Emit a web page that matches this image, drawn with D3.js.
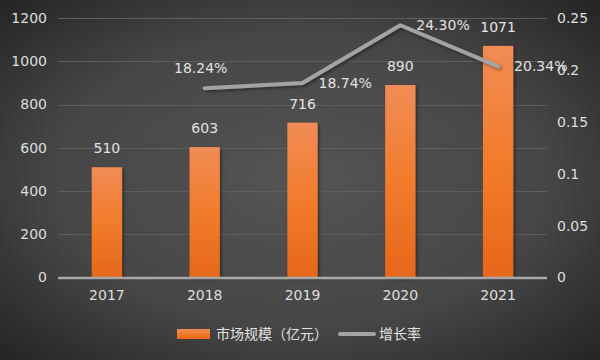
<!DOCTYPE html>
<html>
<head>
<meta charset="utf-8">
<script src="https://cdn.jsdelivr.net/npm/d3@7"></script>
<style>
html,body{margin:0;padding:0;background:#222;}
svg{display:block;}
text{font-family:"DejaVu Sans","Noto Sans CJK SC",sans-serif;}
</style>
</head>
<body>
<svg id="chart" width="600" height="360"></svg>
<script>
// ---- data ----
const categories = ["2017", "2018", "2019", "2020", "2021"];
const marketSize = [510, 603, 716, 890, 1071];
const growthRate = [null, 0.1824, 0.1874, 0.2430, 0.2034];
const growthLabels = ["", "18.24%", "18.74%", "24.30%", "20.34%"];
const leftTicks = [0, 200, 400, 600, 800, 1000, 1200];
const rightTicks = [0, 0.05, 0.1, 0.15, 0.2, 0.25];
const rightTickLabels = ["0", "0.05", "0.1", "0.15", "0.2", "0.25"];
const seriesNames = ["市场规模（亿元）", "增长率"];
const growthLabelPlacement = [null, "above", "right", "right", "right"];

// ---- layout ----
const W = 600, H = 360;
const margin = {left: 58, right: 53, top: 18, bottom: 83};
const svg = d3.select("#chart");
const defs = svg.append("defs");

const bg = defs.append("radialGradient").attr("id", "bg")
  .attr("cx", "50%").attr("cy", "50%").attr("r", "75%");
bg.append("stop").attr("offset", "0%").attr("stop-color", "#545454");
bg.append("stop").attr("offset", "55%").attr("stop-color", "#464646");
bg.append("stop").attr("offset", "100%").attr("stop-color", "#1f1f1f");
svg.append("rect").attr("width", W).attr("height", H).attr("fill", "url(#bg)");

const barGrad = defs.append("linearGradient").attr("id", "barGrad")
  .attr("x1", 0).attr("y1", 0).attr("x2", 0).attr("y2", 1);
barGrad.append("stop").attr("offset", "0%").attr("stop-color", "#f08c55");
barGrad.append("stop").attr("offset", "50%").attr("stop-color", "#f27c2c");
barGrad.append("stop").attr("offset", "100%").attr("stop-color", "#e6671a");

const shadow = defs.append("filter").attr("id", "shadow")
  .attr("x", "-20%").attr("y", "-20%").attr("width", "140%").attr("height", "140%");
shadow.append("feDropShadow").attr("dx", 1.5).attr("dy", 1.5).attr("stdDeviation", 1.5)
  .attr("flood-color", "#000").attr("flood-opacity", 0.45);

const x = d3.scaleBand().domain(categories)
  .range([margin.left, W - margin.right]).paddingInner(0.69).paddingOuter(0.345);
const yL = d3.scaleLinear().domain([0, 1200]).range([277.5, margin.top]);
const yR = d3.scaleLinear().domain([0, 0.25]).range([277.5, margin.top]);

// gridlines
svg.append("g").selectAll("line").data(leftTicks.slice(1)).join("line")
  .attr("x1", margin.left).attr("x2", W - margin.right)
  .attr("y1", d => Math.round(yL(d)) + 0.5).attr("y2", d => Math.round(yL(d)) + 0.5)
  .attr("stroke", "#5e5e5e").attr("stroke-width", 1);

// left axis labels
const axisL = d3.axisLeft(yL).tickValues(leftTicks).tickSize(0).tickPadding(11)
  .tickFormat(d3.format("d"));
const gL = svg.append("g").attr("transform", `translate(${margin.left},0)`).call(axisL);
gL.select(".domain").remove();
gL.selectAll("text").attr("fill", "#dedede").attr("font-size", 14)
  .attr("font-family", "DejaVu Sans, sans-serif");

// right axis labels
const axisR = d3.axisRight(yR).tickValues(rightTicks).tickSize(0).tickPadding(10)
  .tickFormat((d, i) => rightTickLabels[i]);
const gR = svg.append("g").attr("transform", `translate(${W - margin.right},0)`).call(axisR);
gR.select(".domain").remove();
gR.selectAll("text").attr("fill", "#dedede").attr("font-size", 14)
  .attr("font-family", "DejaVu Sans, sans-serif");

// bars
svg.append("g").selectAll("rect").data(marketSize).join("rect")
  .attr("x", (d, i) => x(categories[i]))
  .attr("width", x.bandwidth())
  .attr("y", d => yL(d))
  .attr("height", d => yL(0) - yL(d))
  .attr("fill", "url(#barGrad)")
  .attr("filter", "url(#shadow)");

// x axis line
svg.append("line").attr("x1", margin.left).attr("x2", W - margin.right)
  .attr("y1", 278).attr("y2", 278).attr("stroke", "#a8a8a8").attr("stroke-width", 2.5);

// x axis labels
const axisB = d3.axisBottom(x).tickSize(0).tickPadding(12);
const gB = svg.append("g").attr("transform", "translate(0,278)").call(axisB);
gB.select(".domain").remove();
gB.selectAll("text").attr("fill", "#dedede").attr("font-size", 14)
  .attr("font-family", "DejaVu Sans, sans-serif");

// bar value labels
svg.append("g").selectAll("text").data(marketSize).join("text")
  .attr("x", (d, i) => x(categories[i]) + x.bandwidth() / 2)
  .attr("y", d => yL(d) - 14)
  .attr("text-anchor", "middle")
  .attr("fill", "#e2e2e2").attr("font-size", 14)
  .text(d => d);

// growth line
const pts = growthRate.map((v, i) => ({v, i})).filter(d => d.v !== null);
const line = d3.line()
  .x(d => x(categories[d.i]) + x.bandwidth() / 2)
  .y(d => yR(d.v));
svg.append("path").datum(pts).attr("d", line)
  .attr("fill", "none").attr("stroke", "#a3a3a3").attr("stroke-width", 4)
  .attr("stroke-linejoin", "round").attr("stroke-linecap", "round")
  .attr("filter", "url(#shadow)");

// growth labels
svg.append("g").selectAll("text").data(pts).join("text")
  .attr("x", d => {
    const cx = x(categories[d.i]) + x.bandwidth() / 2;
    return growthLabelPlacement[d.i] === "above" ? cx - 4 : cx + 16;
  })
  .attr("y", d => growthLabelPlacement[d.i] === "above" ? yR(d.v) - 15 : yR(d.v) + 5)
  .attr("text-anchor", d => growthLabelPlacement[d.i] === "above" ? "middle" : "start")
  .attr("fill", "#e2e2e2").attr("font-size", 14)
  .text(d => growthLabels[d.i]);

// legend
const lg = svg.append("g");
lg.append("rect").attr("x", 177).attr("y", 329).attr("width", 33).attr("height", 10)
  .attr("fill", "url(#barGrad)");
lg.append("text").attr("x", 216).attr("y", 339).attr("fill", "#e2e2e2")
  .attr("font-size", 14).attr("font-family", "Noto Sans CJK SC, sans-serif")
  .text(seriesNames[0]);
lg.append("line").attr("x1", 340).attr("x2", 374).attr("y1", 334).attr("y2", 334)
  .attr("stroke", "#a3a3a3").attr("stroke-width", 4).attr("stroke-linecap", "round");
lg.append("text").attr("x", 379).attr("y", 339).attr("fill", "#e2e2e2")
  .attr("font-size", 14).attr("font-family", "Noto Sans CJK SC, sans-serif")
  .text(seriesNames[1]);
</script>
</body>
</html>
